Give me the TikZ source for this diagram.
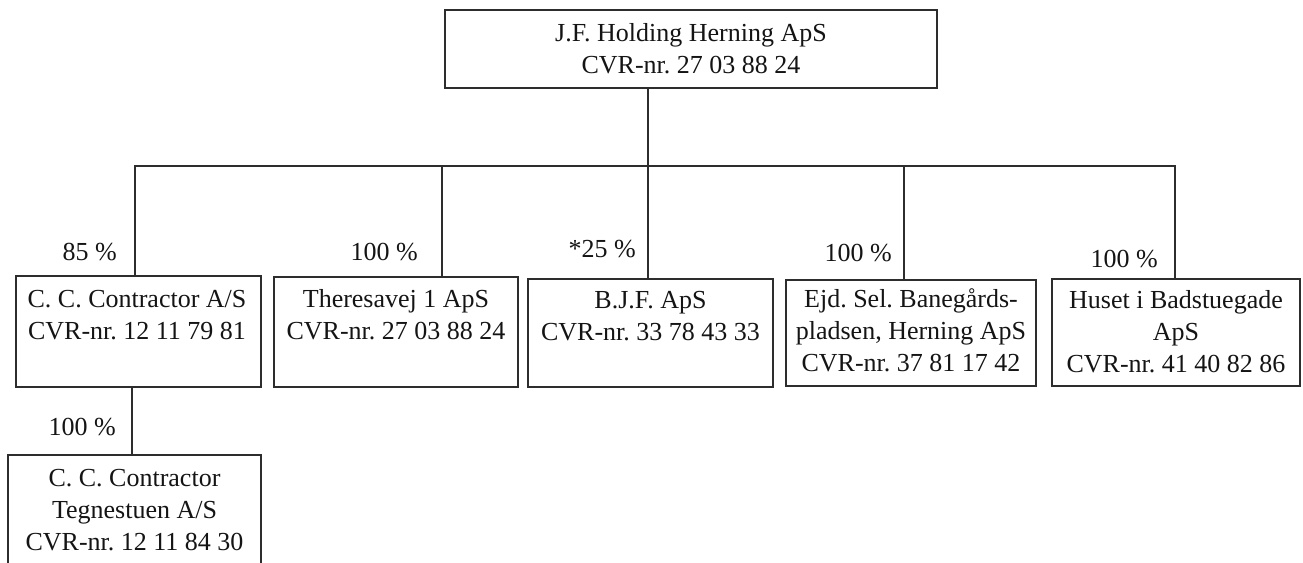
\documentclass[tikz,border=0pt]{standalone}
\usepackage{fontspec}
\setmainfont{Liberation Serif}
\frenchspacing
\definecolor{linec}{RGB}{45,45,45}
\definecolor{txtc}{RGB}{20,20,20}
\newcommand{\fstr}{\rule{0pt}{24pt}}
\tikzset{
  box/.style={draw=linec, line width=1.6pt, anchor=north west, inner sep=0pt, outer sep=0pt},
  txt/.style={anchor=north, inner sep=0pt, align=center, text=txtc, font=\fontsize{26}{32.2}\selectfont\frenchspacing},
  pct/.style={anchor=base east, inner sep=0pt, text=txtc, font=\fontsize{26}{32}\selectfont},
  conn/.style={draw=linec, line width=1.6pt, line join=miter}
}
\begin{document}
\begin{tikzpicture}[x=1pt,y=-1pt]
\useasboundingbox (0,0) rectangle (1303,562);
% boxes
\node[box, minimum width=492pt, minimum height=78pt] (b0) at (445,10) {};
\node[box, minimum width=245pt, minimum height=111pt] (b1) at (16,276) {};
\node[box, minimum width=244pt, minimum height=110pt] (b2) at (274,277) {};
\node[box, minimum width=245pt, minimum height=108pt] (b3) at (528,279) {};
\node[box, minimum width=250pt, minimum height=106pt] (b4) at (786,280) {};
\node[box, minimum width=248pt, minimum height=107pt] (b5) at (1052,279) {};
\node[box, minimum width=253pt, minimum height=112pt] (b6) at (8,455) {};
% texts
\node[txt] (t0) at (691,17) {\fstr J.F. Holding Herning ApS\\CVR-nr. 27 03 88 24};
\node[txt] (t1) at (137,283) {\fstr C. C. Contractor A/S\\CVR-nr. 12 11 79 81};
\node[txt] (t2) at (396,283) {\fstr Theresavej 1 ApS\\CVR-nr. 27 03 88 24};
\node[txt] (t3) at (650.5,284) {\fstr B.J.F. ApS\\CVR-nr. 33 78 43 33};
\node[txt] (t4) at (911,283) {\fstr Ejd. Sel. Banegårds-\\pladsen, Herning ApS\\CVR-nr. 37 81 17 42};
\node[txt] (t5) at (1176,284) {\fstr Huset i Badstuegade\\ApS\\CVR-nr. 41 40 82 86};
\node[txt] (t6) at (134.5,462) {\fstr C. C. Contractor\\Tegnestuen A/S\\CVR-nr. 12 11 84 30};
% percentages
\node[pct] (p1) at (117,260) {85 \%};
\node[pct] (p2) at (418,260) {100 \%};
\node[pct] (p3) at (636,257) {*25 \%};
\node[pct] (p4) at (892,261) {100 \%};
\node[pct] (p5) at (1158,267) {100 \%};
\node[pct] (p6) at (116,435) {100 \%};
% connectors
\coordinate (s1) at (135,166);
\coordinate (s2) at (442,166);
\coordinate (j0) at (648,166);
\coordinate (s4) at (904,166);
\coordinate (s5) at (1175,166);
\coordinate (s6) at (132,420);
\draw[conn] (s1 |- b1.north) -- (s1) -- (s5) -- (s5 |- b5.north);
\draw[conn] (s2) -- (s2 |- b2.north);
\draw[conn] (b0.south -| j0) -- (j0 |- b3.north);
\draw[conn] (s4) -- (s4 |- b4.north);
\draw[conn] (s6 |- b1.south) -- (s6 |- b6.north);
\end{tikzpicture}
\end{document}
